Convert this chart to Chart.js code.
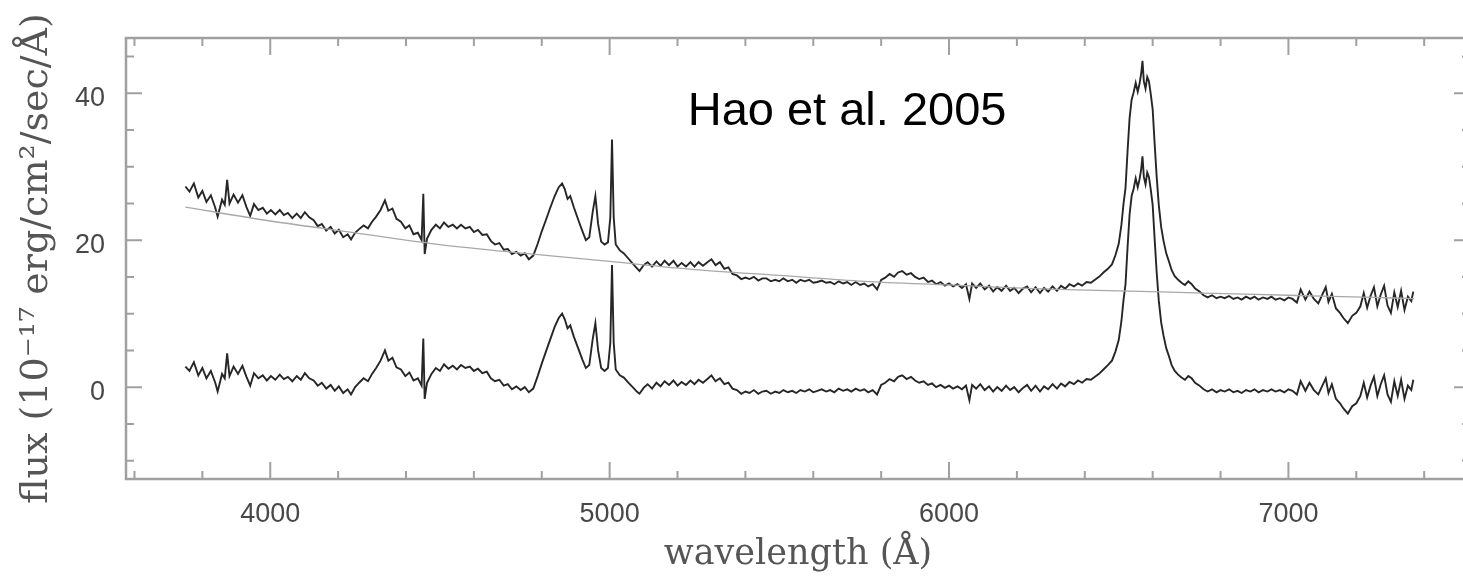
<!DOCTYPE html>
<html>
<head>
<meta charset="utf-8">
<title>Spectrum</title>
<script src="https://cdn.jsdelivr.net/npm/chart.js@4.4.1/dist/chart.umd.min.js"></script>
<style>
  html, body { margin: 0; padding: 0; background: #fff; overflow: hidden; }
  #wrap { width: 1463px; height: 577px; overflow: hidden; }
  canvas { display: block; }
</style>
</head>
<body>
<div id="wrap"><canvas id="spec" width="1480" height="577"></canvas></div>
<script>
// wavelength grid (Angstrom), shared by both spectra
const wavelength = [
  3750, 3762, 3775, 3788, 3800, 3812, 3825, 3838, 3845, 3858,
  3866, 3873, 3880, 3892, 3905, 3918, 3930, 3941, 3952, 3965,
  3978, 3990, 4002, 4015, 4028, 4040, 4052, 4065, 4078, 4090,
  4102, 4115, 4128, 4140, 4152, 4165, 4178, 4190, 4202, 4215,
  4228, 4238, 4250, 4262, 4275, 4288, 4300, 4312, 4325, 4338,
  4348, 4360, 4372, 4385, 4398, 4410, 4422, 4435, 4446, 4451,
  4455, 4462, 4475, 4488, 4500, 4512, 4525, 4538, 4550, 4562,
  4575, 4588, 4600, 4612, 4625, 4638, 4650, 4662, 4675, 4688,
  4700, 4712, 4725, 4738, 4750, 4762, 4775, 4788, 4800, 4812,
  4825, 4838, 4850, 4860, 4868, 4876, 4884, 4895, 4908, 4920,
  4930, 4940, 4950, 4958, 4966, 4975, 4985, 4995, 5002, 5007,
  5012, 5018, 5030, 5042, 5055, 5068, 5080, 5088, 5100, 5112,
  5125, 5138, 5150, 5162, 5175, 5188, 5200, 5212, 5225, 5238,
  5250, 5262, 5275, 5288, 5300, 5312, 5325, 5338, 5350, 5362,
  5375, 5388, 5400, 5412, 5425, 5438, 5450, 5462, 5475, 5488,
  5500, 5512, 5525, 5538, 5550, 5562, 5575, 5588, 5600, 5612,
  5625, 5638, 5650, 5662, 5675, 5688, 5700, 5712, 5725, 5738,
  5750, 5762, 5775, 5788, 5800, 5812, 5825, 5838, 5850, 5862,
  5875, 5888, 5900, 5912, 5925, 5938, 5950, 5962, 5975, 5988,
  6000, 6012, 6025, 6038, 6050, 6060, 6068, 6080, 6092, 6105,
  6118, 6130, 6142, 6155, 6168, 6180, 6192, 6205, 6218, 6230,
  6242, 6255, 6268, 6280, 6292, 6305, 6318, 6330, 6342, 6355,
  6368, 6380, 6392, 6405, 6418, 6430, 6442, 6455, 6468, 6480,
  6490, 6500, 6508, 6514, 6520, 6526, 6532, 6538, 6544, 6550,
  6556, 6561, 6566, 6570, 6574, 6579, 6584, 6589, 6594, 6600,
  6606, 6612, 6618, 6625, 6632, 6640, 6648, 6656, 6665, 6675,
  6685, 6695, 6705, 6715, 6725, 6738, 6750, 6762, 6775, 6788,
  6800, 6812, 6825, 6838, 6850, 6862, 6875, 6888, 6900, 6912,
  6925, 6938, 6950, 6962, 6975, 6988, 7000, 7012, 7025, 7036,
  7050, 7062, 7075, 7088, 7100, 7110, 7118, 7128, 7140, 7152,
  7162, 7175, 7188, 7200, 7212, 7222, 7232, 7242, 7252, 7262,
  7272, 7282, 7292, 7302, 7312, 7322, 7332, 7342, 7352, 7362,
  7368
];

// observed spectrum (top trace)
const fluxObserved = [
  27.3, 26.6, 27.7, 25.8, 26.7, 25.2, 26.1, 24.4, 23.2, 25.5,
  24.8, 28.2, 25.0, 26.2, 25.1, 26.1, 24.5, 23.3, 24.9, 24.1,
  24.4, 23.6, 24.1, 23.5, 24.1, 23.4, 23.7, 23.0, 23.6, 23.0,
  23.8, 23.1, 22.7, 21.9, 22.2, 21.3, 21.8, 20.9, 21.4, 20.4,
  20.8, 20.1, 21.0, 21.5, 22.0, 21.6, 22.5, 23.2, 24.1, 25.4,
  24.0, 24.3, 22.9, 22.5, 21.6, 22.0, 20.8, 21.0, 20.0, 26.3,
  18.1, 20.2, 21.4, 22.1, 21.6, 22.4, 21.8, 22.1, 21.6, 22.1,
  21.6, 21.8, 21.1, 21.4, 20.7, 20.8, 19.9, 19.4, 19.6, 18.7,
  18.8, 18.1, 18.4, 17.9, 18.2, 17.4, 17.9, 19.5, 21.2, 22.7,
  24.4, 26.0, 27.2, 27.7, 26.9, 25.6, 26.0, 24.4, 22.7, 21.2,
  20.0, 20.4, 23.8, 26.0, 22.2, 19.8, 19.4, 19.7, 23.1, 33.7,
  23.1, 19.4, 18.6, 18.2, 17.5, 16.8, 16.2, 15.8, 16.6, 17.0,
  16.4, 17.1, 16.5, 17.2, 16.6, 17.2, 16.4, 16.9, 16.4, 17.0,
  16.4, 17.0, 16.5, 17.0, 17.4, 16.6, 17.0, 16.1, 16.3, 15.4,
  15.2, 14.7, 14.9, 14.7, 15.0, 14.5, 14.8, 14.8, 14.4, 14.6,
  14.4, 14.8, 14.4, 14.6, 14.2, 14.6, 14.4, 14.6, 14.2, 14.3,
  14.5, 14.2, 14.3, 14.0, 14.4, 14.1, 14.3, 13.9, 14.3, 13.9,
  14.1, 13.7, 14.0, 13.3, 14.6, 14.9, 15.4, 15.0, 15.6, 15.8,
  15.3, 15.5, 15.0, 14.7, 14.9, 14.3, 14.5, 14.0, 14.3, 13.8,
  14.1, 13.7, 14.0, 13.5, 14.0, 12.0, 14.1, 13.5, 14.1, 13.3,
  13.8, 13.0, 13.6, 13.1, 13.8, 13.1, 13.5, 12.8, 13.4, 13.7,
  12.9, 13.6, 12.8, 13.5, 13.0, 13.7, 13.1, 13.8, 13.4, 14.0,
  13.7, 14.1, 13.8, 14.3, 14.2, 14.6, 15.0, 15.6, 16.1, 16.7,
  17.9, 19.5, 22.1, 24.9, 27.1, 32.1, 36.6, 39.1, 40.1, 41.4,
  40.2, 41.2, 42.6, 44.4, 41.6, 40.6, 42.2, 41.6, 40.0, 37.8,
  33.0, 28.5, 24.8, 21.8, 19.9, 18.2, 17.1, 15.9, 15.1, 14.6,
  14.2, 13.9, 14.4, 14.0, 13.4, 13.0, 12.5, 12.2, 12.5, 12.1,
  12.3, 12.1, 12.4, 12.0, 12.2, 11.9, 12.3, 12.0, 12.3, 11.9,
  12.2, 12.0, 12.3, 11.9, 12.1, 11.8, 12.2, 12.0, 11.5, 13.3,
  11.9, 13.0, 12.0, 11.4, 12.6, 13.6, 11.6, 12.7, 10.7, 10.1,
  9.4, 8.7, 9.7, 10.1, 11.0, 12.8, 10.8, 12.4, 13.6, 11.0,
  12.6, 13.8, 11.1, 10.1, 12.9, 10.9, 13.1, 10.5, 12.3, 11.7,
  13.0
];

// continuum-subtracted spectrum (bottom trace)
const fluxResidual = [
  2.8, 2.2, 3.4, 1.6, 2.6, 1.2, 2.2, 0.6, -0.6, 1.8,
  1.2, 4.6, 1.5, 2.8, 1.8, 2.9, 1.4, 0.2, 1.9, 1.2,
  1.6, 0.9, 1.5, 1.0, 1.7, 1.1, 1.4, 0.8, 1.5, 1.0,
  1.9, 1.2, 0.9, 0.2, 0.6, -0.2, 0.3, -0.5, 0.1, -0.8,
  -0.3, -1.0, 0.0, 0.6, 1.2, 0.8, 1.8, 2.6, 3.6, 5.0,
  3.6, 4.0, 2.7, 2.4, 1.5, 2.0, 0.9, 1.2, 0.2, 6.6,
  -1.6, 0.6, 1.8, 2.6, 2.2, 3.1, 2.5, 2.9, 2.4, 3.0,
  2.6, 2.8, 2.2, 2.5, 1.9, 2.1, 1.2, 0.8, 1.0, 0.2,
  0.4, -0.3, 0.1, -0.4, 0.0, -0.7, -0.2, 1.5, 3.2, 4.8,
  6.5, 8.2, 9.4, 10.0, 9.2, 8.0, 8.4, 6.8, 5.2, 3.7,
  2.6, 3.0, 6.5, 8.7, 5.0, 2.6, 2.2, 2.6, 6.0, 16.6,
  6.0, 2.4, 1.6, 1.3, 0.6, 0.0, -0.6, -0.9, -0.1, 0.4,
  -0.2, 0.6, 0.1, 0.8, 0.3, 0.9, 0.2, 0.7, 0.3, 0.9,
  0.4, 1.0, 0.6, 1.1, 1.6, 0.8, 1.2, 0.4, 0.6, -0.2,
  -0.4, -0.9, -0.6, -0.8, -0.4, -0.9, -0.6, -0.5, -0.9, -0.6,
  -0.8, -0.4, -0.7, -0.5, -0.8, -0.4, -0.6, -0.3, -0.7, -0.5,
  -0.3, -0.6, -0.4, -0.7, -0.2, -0.5, -0.3, -0.6, -0.2, -0.5,
  -0.3, -0.7, -0.4, -1.0, 0.3, 0.6, 1.1, 0.8, 1.4, 1.6,
  1.1, 1.4, 0.9, 0.6, 0.8, 0.3, 0.5, 0.0, 0.3, -0.1,
  0.2, -0.2, 0.1, -0.3, 0.2, -1.8, 0.3, -0.2, 0.4, -0.4,
  0.1, -0.6, 0.0, -0.5, 0.2, -0.4, 0.0, -0.7, -0.1, 0.3,
  -0.5, 0.2, -0.6, 0.1, -0.3, 0.4, -0.2, 0.5, 0.1, 0.7,
  0.4, 0.9, 0.6, 1.1, 1.0, 1.4, 1.8, 2.4, 3.0, 3.6,
  4.8, 6.4, 9.0, 11.8, 14.0, 19.0, 23.5, 26.0, 27.0, 28.4,
  27.2, 28.2, 29.6, 31.4, 28.6, 27.6, 29.2, 28.6, 27.0, 24.8,
  20.0, 15.5, 11.8, 8.8, 7.0, 5.3, 4.2, 3.0, 2.2, 1.7,
  1.3, 1.0, 1.5, 1.2, 0.6, 0.2, -0.3, -0.6, -0.3, -0.7,
  -0.4, -0.6, -0.3, -0.7, -0.5, -0.8, -0.4, -0.6, -0.3, -0.7,
  -0.4, -0.6, -0.3, -0.6, -0.4, -0.7, -0.3, -0.5, -1.0, 0.8,
  -0.5, 0.6, -0.4, -1.0, 0.2, 1.2, -0.8, 0.4, -1.6, -2.2,
  -2.9, -3.6, -2.6, -2.2, -1.2, 0.6, -1.4, 0.2, 1.4, -1.2,
  0.4, 1.6, -1.0, -2.0, 0.8, -1.2, 1.0, -1.6, 0.2, -0.4,
  1.0
];

// power-law continuum fit
const continuumWave = [3750, 4000, 4250, 4500, 4750, 5000, 5250, 5500, 5750, 6000, 6250, 6500, 6750, 7000, 7250, 7370];
const continuumFlux = [24.5, 22.6, 21.0, 19.4, 18.2, 17.1, 16.0, 15.2, 14.4, 13.9, 13.4, 13.1, 12.8, 12.5, 12.2, 12.05];

// axis ticks
const xTicks = [4000, 5000, 6000, 7000];
const xMinorTicks = [3600, 3800, 4200, 4400, 4600, 4800, 5200, 5400, 5600, 5800, 6200, 6400, 6600, 6800, 7200, 7400];
const yTicks = [0, 20, 40];
const yMinorTicks = [-10, -5, 5, 10, 15, 25, 30, 35, 45];

const toPoints = (xs, ys) => xs.map((x, i) => ({ x: x, y: ys[i] }));

// frame with inward ticks on all four sides
const frameTicks = {
  id: 'frameTicks',
  beforeDatasetsDraw(chart) {
    const { ctx, chartArea: a, scales: { x, y } } = chart;
    ctx.save();
    ctx.strokeStyle = '#a0a0a0';
    ctx.lineWidth = 2.5;
    ctx.strokeRect(a.left, a.top, a.right - a.left, a.bottom - a.top);
    ctx.lineWidth = 2;
    ctx.beginPath();
    const tickX = (v, len) => {
      const px = x.getPixelForValue(v);
      ctx.moveTo(px, a.bottom); ctx.lineTo(px, a.bottom - len);
      ctx.moveTo(px, a.top); ctx.lineTo(px, a.top + len);
    };
    const tickY = (v, len) => {
      const py = y.getPixelForValue(v);
      ctx.moveTo(a.left, py); ctx.lineTo(a.left + len, py);
      ctx.moveTo(a.right, py); ctx.lineTo(a.right - len, py);
    };
    xTicks.forEach(v => tickX(v, 17));
    xMinorTicks.forEach(v => tickX(v, 8));
    yTicks.forEach(v => tickY(v, 16));
    yMinorTicks.forEach(v => tickY(v, 8));
    ctx.stroke();
    ctx.restore();
  },
  afterDraw(chart) {
    const { ctx, scales: { x, y } } = chart;
    ctx.save();
    ctx.fillStyle = '#000';
    ctx.font = '47px "Liberation Sans", Arial, sans-serif';
    ctx.textBaseline = 'middle';
    ctx.fillText('Hao et al. 2005', x.getPixelForValue(5230), y.getPixelForValue(37.4));
    ctx.restore();
  }
};

const lineStyle = { pointRadius: 0, borderWidth: 1.9, borderColor: '#262626', tension: 0 };

new Chart(document.getElementById('spec'), {
  type: 'line',
  data: {
    datasets: [
      {
        label: 'continuum',
        data: toPoints(continuumWave, continuumFlux),
        pointRadius: 0, borderWidth: 1.3, borderColor: '#a8a8a8', tension: 0.3
      },
      Object.assign({ label: 'observed', data: toPoints(wavelength, fluxObserved) }, lineStyle),
      Object.assign({ label: 'residual', data: toPoints(wavelength, fluxResidual) }, lineStyle)
    ]
  },
  options: {
    responsive: false,
    animation: false,
    devicePixelRatio: 1,
    layout: { padding: { top: 38, right: 10, left: 0, bottom: 0 } },
    plugins: { legend: { display: false }, tooltip: { enabled: false } },
    scales: {
      x: {
        type: 'linear',
        min: 3575,
        max: 7535,
        afterFit: s => { s.height = 98; },
        afterBuildTicks: s => { s.ticks = xTicks.map(v => ({ value: v })); },
        grid: { display: false, drawTicks: false },
        border: { display: false },
        ticks: {
          padding: 19,
          color: '#484848',
          font: { family: '"Liberation Sans", Arial, sans-serif', size: 27 },
          maxRotation: 0,
          callback: v => String(v)
        },
        title: {
          display: true,
          text: 'wavelength (Å)',
          color: '#555',
          font: { family: '"DejaVu Serif", serif', size: 35 },
          padding: { top: 0, bottom: 1 }
        }
      },
      y: {
        type: 'linear',
        min: -12.5,
        max: 47.5,
        afterFit: s => { s.width = 126; },
        afterBuildTicks: s => { s.ticks = yTicks.map(v => ({ value: v })); },
        grid: { display: false, drawTicks: false },
        border: { display: false },
        ticks: {
          padding: 21,
          labelOffset: 5,
          color: '#484848',
          font: { family: '"Liberation Sans", Arial, sans-serif', size: 27 },
          callback: v => String(v)
        },
        title: {
          display: true,
          text: 'flux (10⁻¹⁷ erg/cm²/sec/Å)',
          color: '#555',
          font: { family: '"DejaVu Serif", serif', size: 38 },
          padding: { top: 14, bottom: 0 }
        }
      }
    }
  },
  plugins: [frameTicks]
});
</script>
</body>
</html>
